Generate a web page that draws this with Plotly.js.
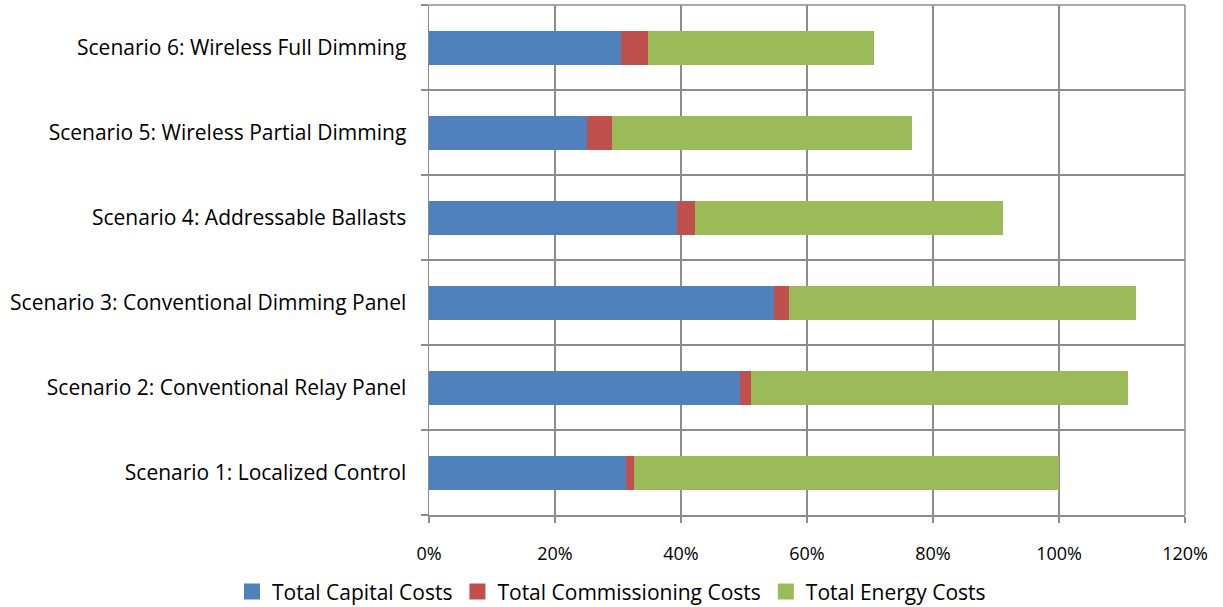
<!DOCTYPE html>
<html>
<head>
<meta charset="utf-8">
<script src="https://cdn.plot.ly/plotly-3.0.1.min.js"></script>
<style>html,body{margin:0;padding:0;background:#fff;}#chart{width:1223px;height:607px;}</style>
</head>
<body>
<div id="chart"></div>
<script>
const categories = [
  "Scenario 1: Localized Control",
  "Scenario 2: Conventional Relay Panel",
  "Scenario 3: Conventional Dimming Panel",
  "Scenario 4: Addressable Ballasts",
  "Scenario 5: Wireless Partial Dimming",
  "Scenario 6: Wireless Full Dimming"
];
const capitalCosts = [31.3, 49.4, 54.7, 39.4, 25.1, 30.4];
const commissioningCosts = [1.2, 1.7, 2.4, 2.9, 4.0, 4.4];
const energyCosts = [67.5, 59.8, 55.2, 48.8, 47.6, 35.9];
const seriesNames = ["Total Capital Costs", "Total Commissioning Costs", "Total Energy Costs"];
const xTickVals = [0, 20, 40, 60, 80, 100, 120];

const colors = ["#4F81BD", "#C0504D", "#9BBB59"];
const values = [capitalCosts, commissioningCosts, energyCosts];
const font = "Open Sans, Liberation Sans, sans-serif";

const barTraces = values.map((v, i) => ({
  type: "bar",
  orientation: "h",
  y: categories,
  x: v,
  name: seriesNames[i],
  showlegend: false,
  marker: {color: colors[i], line: {width: 0}},
  hoverinfo: "skip"
}));

const legendTraces = seriesNames.map((n, i) => ({
  type: "scatter",
  mode: "markers",
  x: [null],
  y: [categories[0]],
  name: n,
  showlegend: true,
  marker: {symbol: "square", size: 16, color: colors[i], line: {width: 0}},
  hoverinfo: "skip"
}));

const layout = {
  width: 1223,
  height: 607,
  margin: {l: 429, r: 38, t: 5, b: 92},
  barmode: "stack",
  bargap: 0.6,
  paper_bgcolor: "#fff",
  plot_bgcolor: "#fff",
  font: {family: font, size: 18, color: "#000"},
  showlegend: true,
  legend: {
    orientation: "h",
    xref: "container", yref: "container",
    x: 0.5, xanchor: "center",
    y: 0.025, yanchor: "middle",
    traceorder: "normal",
    font: {family: font, size: 21, color: "#000"},
    itemwidth: 30
  },
  xaxis: {
    range: [0, 120],
    tickvals: xTickVals,
    ticktext: xTickVals.map(v => v + "%"),
    showgrid: true,
    gridcolor: "#8c8c8c",
    gridwidth: 1.5,
    zeroline: false,
    showline: true,
    linecolor: "#8c8c8c",
    linewidth: 1.5,
    ticks: "outside",
    ticklen: 6,
    tickcolor: "#8c8c8c",
    tickwidth: 1.5,
    ticklabelstandoff: 16,
    tickfont: {family: font, size: 18, color: "#000"},
    fixedrange: true
  },
  yaxis: {
    type: "category",
    categoryorder: "array",
    categoryarray: categories,
    tickson: "boundaries",
    showgrid: true,
    gridcolor: "#8c8c8c",
    gridwidth: 1.5,
    showline: true,
    linecolor: "#8c8c8c",
    linewidth: 1.5,
    ticks: "outside",
    ticklen: 7,
    tickcolor: "#8c8c8c",
    tickwidth: 1.5,
    ticklabelstandoff: 17,
    tickfont: {family: font, size: 21, color: "#000"},
    fixedrange: true
  },
  shapes: [
    {type: "line", xref: "paper", yref: "paper", x0: 0, x1: 1, y0: 1, y1: 1, line: {color: "#8c8c8c", width: 1.5}},
    {type: "line", xref: "paper", yref: "paper", x0: 1, x1: 1, y0: 0, y1: 1, line: {color: "#8c8c8c", width: 1.5}}
  ]
};

Plotly.newPlot("chart", barTraces.concat(legendTraces), layout, {displayModeBar: false, staticPlot: true});
</script>
</body>
</html>
